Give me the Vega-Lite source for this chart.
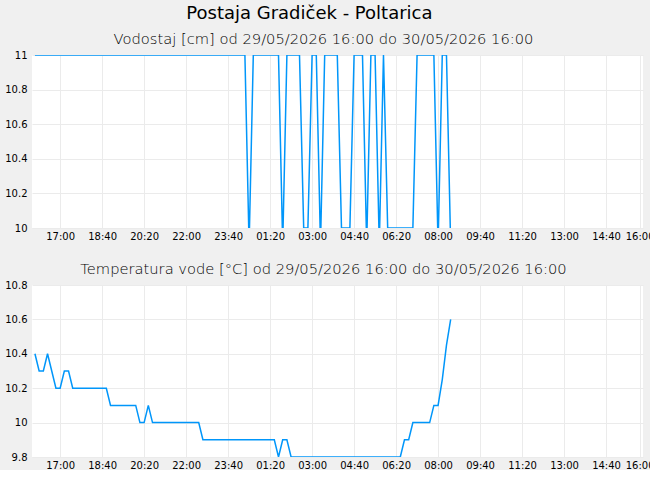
{
  "$schema": "https://vega.github.io/schema/vega-lite/v6.json",
  "background": "#f0f0f0",
  "padding": {"left": 4, "top": 5, "right": 0, "bottom": 0},
  "title": {"text": "Postaja Gradiček - Poltarica", "fontSize": 18, "fontWeight": "normal", "font": "DejaVu Sans", "color": "#000000", "anchor": "middle", "offset": 9, "dx": -20},
  "data": {"values": [
    {"t": "2026-05-29T16:00", "lvl": 11, "temp": 10.4},
    {"t": "2026-05-29T16:10", "lvl": 11, "temp": 10.3},
    {"t": "2026-05-29T16:20", "lvl": 11, "temp": 10.3},
    {"t": "2026-05-29T16:30", "lvl": 11, "temp": 10.4},
    {"t": "2026-05-29T16:40", "lvl": 11, "temp": 10.3},
    {"t": "2026-05-29T16:50", "lvl": 11, "temp": 10.2},
    {"t": "2026-05-29T17:00", "lvl": 11, "temp": 10.2},
    {"t": "2026-05-29T17:10", "lvl": 11, "temp": 10.3},
    {"t": "2026-05-29T17:20", "lvl": 11, "temp": 10.3},
    {"t": "2026-05-29T17:30", "lvl": 11, "temp": 10.2},
    {"t": "2026-05-29T17:40", "lvl": 11, "temp": 10.2},
    {"t": "2026-05-29T17:50", "lvl": 11, "temp": 10.2},
    {"t": "2026-05-29T18:00", "lvl": 11, "temp": 10.2},
    {"t": "2026-05-29T18:10", "lvl": 11, "temp": 10.2},
    {"t": "2026-05-29T18:20", "lvl": 11, "temp": 10.2},
    {"t": "2026-05-29T18:30", "lvl": 11, "temp": 10.2},
    {"t": "2026-05-29T18:40", "lvl": 11, "temp": 10.2},
    {"t": "2026-05-29T18:50", "lvl": 11, "temp": 10.2},
    {"t": "2026-05-29T19:00", "lvl": 11, "temp": 10.1},
    {"t": "2026-05-29T19:10", "lvl": 11, "temp": 10.1},
    {"t": "2026-05-29T19:20", "lvl": 11, "temp": 10.1},
    {"t": "2026-05-29T19:30", "lvl": 11, "temp": 10.1},
    {"t": "2026-05-29T19:40", "lvl": 11, "temp": 10.1},
    {"t": "2026-05-29T19:50", "lvl": 11, "temp": 10.1},
    {"t": "2026-05-29T20:00", "lvl": 11, "temp": 10.1},
    {"t": "2026-05-29T20:10", "lvl": 11, "temp": 10.0},
    {"t": "2026-05-29T20:20", "lvl": 11, "temp": 10.0},
    {"t": "2026-05-29T20:30", "lvl": 11, "temp": 10.1},
    {"t": "2026-05-29T20:40", "lvl": 11, "temp": 10.0},
    {"t": "2026-05-29T20:50", "lvl": 11, "temp": 10.0},
    {"t": "2026-05-29T21:00", "lvl": 11, "temp": 10.0},
    {"t": "2026-05-29T21:10", "lvl": 11, "temp": 10.0},
    {"t": "2026-05-29T21:20", "lvl": 11, "temp": 10.0},
    {"t": "2026-05-29T21:30", "lvl": 11, "temp": 10.0},
    {"t": "2026-05-29T21:40", "lvl": 11, "temp": 10.0},
    {"t": "2026-05-29T21:50", "lvl": 11, "temp": 10.0},
    {"t": "2026-05-29T22:00", "lvl": 11, "temp": 10.0},
    {"t": "2026-05-29T22:10", "lvl": 11, "temp": 10.0},
    {"t": "2026-05-29T22:20", "lvl": 11, "temp": 10.0},
    {"t": "2026-05-29T22:30", "lvl": 11, "temp": 10.0},
    {"t": "2026-05-29T22:40", "lvl": 11, "temp": 9.9},
    {"t": "2026-05-29T22:50", "lvl": 11, "temp": 9.9},
    {"t": "2026-05-29T23:00", "lvl": 11, "temp": 9.9},
    {"t": "2026-05-29T23:10", "lvl": 11, "temp": 9.9},
    {"t": "2026-05-29T23:20", "lvl": 11, "temp": 9.9},
    {"t": "2026-05-29T23:30", "lvl": 11, "temp": 9.9},
    {"t": "2026-05-29T23:40", "lvl": 11, "temp": 9.9},
    {"t": "2026-05-29T23:50", "lvl": 11, "temp": 9.9},
    {"t": "2026-05-30T00:00", "lvl": 11, "temp": 9.9},
    {"t": "2026-05-30T00:10", "lvl": 11, "temp": 9.9},
    {"t": "2026-05-30T00:20", "lvl": 11, "temp": 9.9},
    {"t": "2026-05-30T00:30", "lvl": 9.9, "temp": 9.9},
    {"t": "2026-05-30T00:40", "lvl": 11, "temp": 9.9},
    {"t": "2026-05-30T00:50", "lvl": 11, "temp": 9.9},
    {"t": "2026-05-30T01:00", "lvl": 11, "temp": 9.9},
    {"t": "2026-05-30T01:10", "lvl": 11, "temp": 9.9},
    {"t": "2026-05-30T01:20", "lvl": 11, "temp": 9.9},
    {"t": "2026-05-30T01:30", "lvl": 11, "temp": 9.9},
    {"t": "2026-05-30T01:40", "lvl": 11, "temp": 9.8},
    {"t": "2026-05-30T01:50", "lvl": 9.9, "temp": 9.9},
    {"t": "2026-05-30T02:00", "lvl": 11, "temp": 9.9},
    {"t": "2026-05-30T02:10", "lvl": 11, "temp": 9.8},
    {"t": "2026-05-30T02:20", "lvl": 11, "temp": 9.8},
    {"t": "2026-05-30T02:30", "lvl": 11, "temp": 9.8},
    {"t": "2026-05-30T02:40", "lvl": 10, "temp": 9.8},
    {"t": "2026-05-30T02:50", "lvl": 10, "temp": 9.8},
    {"t": "2026-05-30T03:00", "lvl": 11, "temp": 9.8},
    {"t": "2026-05-30T03:10", "lvl": 11, "temp": 9.8},
    {"t": "2026-05-30T03:20", "lvl": 9.9, "temp": 9.8},
    {"t": "2026-05-30T03:30", "lvl": 11, "temp": 9.8},
    {"t": "2026-05-30T03:40", "lvl": 11, "temp": 9.8},
    {"t": "2026-05-30T03:50", "lvl": 11, "temp": 9.8},
    {"t": "2026-05-30T04:00", "lvl": 11, "temp": 9.8},
    {"t": "2026-05-30T04:10", "lvl": 10, "temp": 9.8},
    {"t": "2026-05-30T04:20", "lvl": 10, "temp": 9.8},
    {"t": "2026-05-30T04:30", "lvl": 10, "temp": 9.8},
    {"t": "2026-05-30T04:40", "lvl": 11, "temp": 9.8},
    {"t": "2026-05-30T04:50", "lvl": 11, "temp": 9.8},
    {"t": "2026-05-30T05:00", "lvl": 11, "temp": 9.8},
    {"t": "2026-05-30T05:10", "lvl": 9.9, "temp": 9.8},
    {"t": "2026-05-30T05:20", "lvl": 11, "temp": 9.8},
    {"t": "2026-05-30T05:30", "lvl": 11, "temp": 9.8},
    {"t": "2026-05-30T05:40", "lvl": 9.9, "temp": 9.8},
    {"t": "2026-05-30T05:50", "lvl": 11, "temp": 9.8},
    {"t": "2026-05-30T06:00", "lvl": 10, "temp": 9.8},
    {"t": "2026-05-30T06:10", "lvl": 10, "temp": 9.8},
    {"t": "2026-05-30T06:20", "lvl": 10, "temp": 9.8},
    {"t": "2026-05-30T06:30", "lvl": 10, "temp": 9.8},
    {"t": "2026-05-30T06:40", "lvl": 10, "temp": 9.9},
    {"t": "2026-05-30T06:50", "lvl": 10, "temp": 9.9},
    {"t": "2026-05-30T07:00", "lvl": 10, "temp": 10.0},
    {"t": "2026-05-30T07:10", "lvl": 11, "temp": 10.0},
    {"t": "2026-05-30T07:20", "lvl": 11, "temp": 10.0},
    {"t": "2026-05-30T07:30", "lvl": 11, "temp": 10.0},
    {"t": "2026-05-30T07:40", "lvl": 11, "temp": 10.0},
    {"t": "2026-05-30T07:50", "lvl": 11, "temp": 10.1},
    {"t": "2026-05-30T08:00", "lvl": 9.9, "temp": 10.1},
    {"t": "2026-05-30T08:10", "lvl": 11, "temp": 10.25},
    {"t": "2026-05-30T08:20", "lvl": 11, "temp": 10.45},
    {"t": "2026-05-30T08:30", "lvl": 9.9, "temp": 10.6}
  ]},
  "config": {
    "font": "DejaVu Sans",
    "view": {"fill": "#ffffff", "stroke": null},
    "concat": {"spacing": 21},
    "axis": {
      "title": null,
      "domain": false,
      "ticks": false,
      "gridColor": "#ebebeb",
      "gridWidth": 1,
      "labelFont": "DejaVu Sans",
      "labelFontSize": 10,
      "labelColor": "#000000",
      "labelPadding": 5,
      "labelFlush": false,
      "labelOverlap": false,
      "labelBound": false
    },
    "axisX": {"labelPadding": 3},
    "title": {"fontSize": 14.7, "fontWeight": 300, "font": "DejaVu Sans", "color": "#000000", "anchor": "middle", "dx": -14, "offset": 3}
  },
  "vconcat": [
    {
      "width": 611,
      "height": 173,
      "title": "Vodostaj [cm] od 29/05/2026 16:00 do 30/05/2026 16:00",
      "mark": {"type": "line", "color": "#0096fa", "strokeWidth": 1.5, "clip": true},
      "encoding": {
        "x": {
          "field": "t", "type": "temporal",
          "scale": {"domain": [{"year": 2026, "month": 5, "date": 29, "hours": 15, "minutes": 53}, {"year": 2026, "month": 5, "date": 30, "hours": 16, "minutes": 8}], "nice": false},
          "axis": {"format": "%H:%M", "values": [
            {"year": 2026, "month": 5, "date": 29, "hours": 17, "minutes": 0},
            {"year": 2026, "month": 5, "date": 29, "hours": 18, "minutes": 40},
            {"year": 2026, "month": 5, "date": 29, "hours": 20, "minutes": 20},
            {"year": 2026, "month": 5, "date": 29, "hours": 22, "minutes": 0},
            {"year": 2026, "month": 5, "date": 29, "hours": 23, "minutes": 40},
            {"year": 2026, "month": 5, "date": 30, "hours": 1, "minutes": 20},
            {"year": 2026, "month": 5, "date": 30, "hours": 3, "minutes": 0},
            {"year": 2026, "month": 5, "date": 30, "hours": 4, "minutes": 40},
            {"year": 2026, "month": 5, "date": 30, "hours": 6, "minutes": 20},
            {"year": 2026, "month": 5, "date": 30, "hours": 8, "minutes": 0},
            {"year": 2026, "month": 5, "date": 30, "hours": 9, "minutes": 40},
            {"year": 2026, "month": 5, "date": 30, "hours": 11, "minutes": 20},
            {"year": 2026, "month": 5, "date": 30, "hours": 13, "minutes": 0},
            {"year": 2026, "month": 5, "date": 30, "hours": 14, "minutes": 40},
            {"year": 2026, "month": 5, "date": 30, "hours": 16, "minutes": 0}
          ]}
        },
        "y": {
          "field": "lvl", "type": "quantitative",
          "scale": {"domain": [10, 11], "nice": false, "zero": false},
          "axis": {"values": [10, 10.2, 10.4, 10.6, 10.8, 11], "format": "~g"}
        }
      }
    },
    {
      "width": 611,
      "height": 172,
      "title": "Temperatura vode [°C] od 29/05/2026 16:00 do 30/05/2026 16:00",
      "mark": {"type": "line", "color": "#0096fa", "strokeWidth": 1.5, "clip": true},
      "encoding": {
        "x": {
          "field": "t", "type": "temporal",
          "scale": {"domain": [{"year": 2026, "month": 5, "date": 29, "hours": 15, "minutes": 53}, {"year": 2026, "month": 5, "date": 30, "hours": 16, "minutes": 8}], "nice": false},
          "axis": {"format": "%H:%M", "values": [
            {"year": 2026, "month": 5, "date": 29, "hours": 17, "minutes": 0},
            {"year": 2026, "month": 5, "date": 29, "hours": 18, "minutes": 40},
            {"year": 2026, "month": 5, "date": 29, "hours": 20, "minutes": 20},
            {"year": 2026, "month": 5, "date": 29, "hours": 22, "minutes": 0},
            {"year": 2026, "month": 5, "date": 29, "hours": 23, "minutes": 40},
            {"year": 2026, "month": 5, "date": 30, "hours": 1, "minutes": 20},
            {"year": 2026, "month": 5, "date": 30, "hours": 3, "minutes": 0},
            {"year": 2026, "month": 5, "date": 30, "hours": 4, "minutes": 40},
            {"year": 2026, "month": 5, "date": 30, "hours": 6, "minutes": 20},
            {"year": 2026, "month": 5, "date": 30, "hours": 8, "minutes": 0},
            {"year": 2026, "month": 5, "date": 30, "hours": 9, "minutes": 40},
            {"year": 2026, "month": 5, "date": 30, "hours": 11, "minutes": 20},
            {"year": 2026, "month": 5, "date": 30, "hours": 13, "minutes": 0},
            {"year": 2026, "month": 5, "date": 30, "hours": 14, "minutes": 40},
            {"year": 2026, "month": 5, "date": 30, "hours": 16, "minutes": 0}
          ]}
        },
        "y": {
          "field": "temp", "type": "quantitative",
          "scale": {"domain": [9.8, 10.8], "nice": false, "zero": false},
          "axis": {"values": [9.8, 10, 10.2, 10.4, 10.6, 10.8], "format": "~g"}
        }
      }
    }
  ]
}
